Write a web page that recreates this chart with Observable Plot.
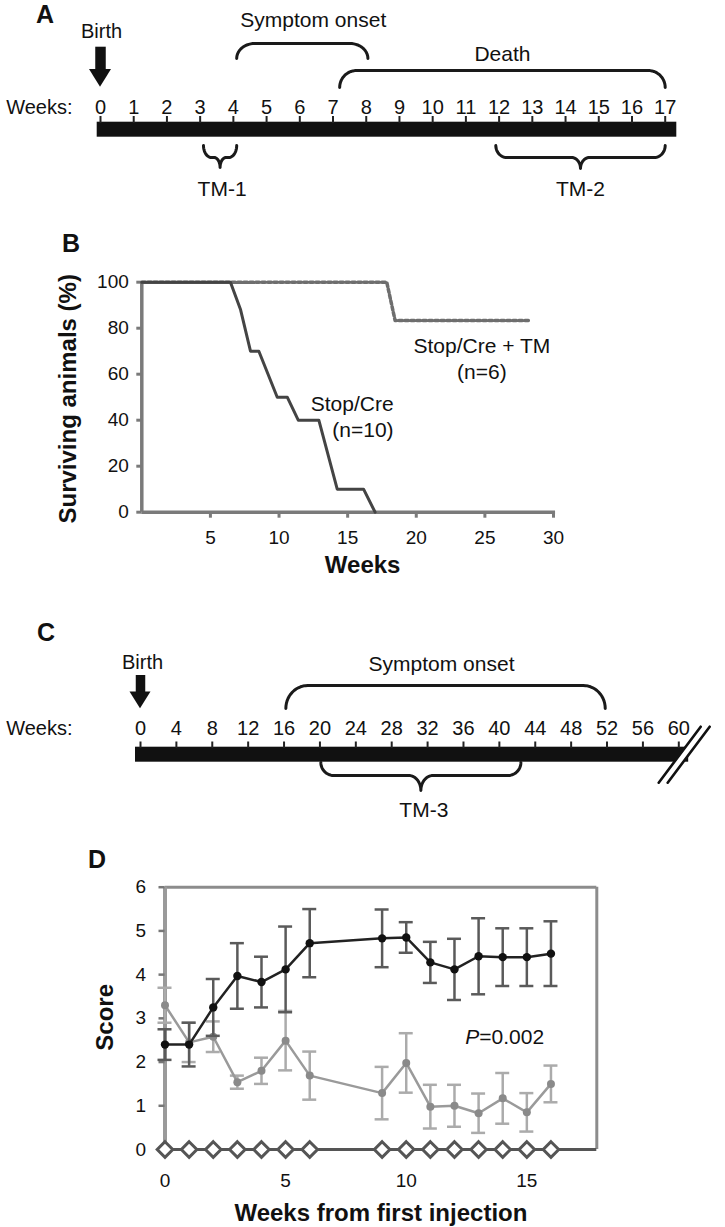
<!DOCTYPE html>
<html>
<head>
<meta charset="utf-8">
<script src="https://cdn.jsdelivr.net/npm/d3@7"></script>
<script src="https://cdn.jsdelivr.net/npm/@observablehq/plot@0.6"></script>
<style>
  html, body { margin: 0; padding: 0; background: #fff; }
  #fig { position: relative; width: 725px; height: 1227px; overflow: hidden; background: #fff; }
  #fig > svg, #fig > figure { position: absolute; left: 0; margin: 0; }
</style>
</head>
<body>
<div id="fig"></div>
<script>
// ================= DATA =================
// Panel A – timeline (weeks)
const weeksA = [0,1,2,3,4,5,6,7,8,9,10,11,12,13,14,15,16,17];
const bracketLabelsA = ["Symptom onset", "Death", "TM-1", "TM-2"];
const bracketStartA = [4.1, 7.2, 3.1, 11.9];
const bracketEndA   = [8.05, 17.0, 4.1, 17.0];

// Panel B – survival (%)
const weeksStopCre   = [0, 6.46, 7.2, 7.92, 8.53, 9.87, 10.6, 11.4, 12.9, 14.24, 16.16, 17.0];
const survStopCre    = [100, 100, 88, 70, 70, 50, 50, 40, 40, 10, 10, 0];
const weeksStopCreTM = [0, 17.85, 18.46, 28.2];
const survStopCreTM  = [100, 100, 83.3, 83.3];
const seriesLabelsB  = ["Stop/Cre\n(n=10)", "Stop/Cre + TM\n(n=6)"];
const yTicksB = [0, 20, 40, 60, 80, 100];
const xTicksB = [5, 10, 15, 20, 25, 30];

// Panel C – timeline (weeks)
const weeksC = [0,4,8,12,16,20,24,28,32,36,40,44,48,52,56,60];
const bracketLabelsC = ["Symptom onset", "TM-3"];
const bracketStartC = [16.2, 20.1];
const bracketEndC   = [51.8, 42.4];

// Panel D – score
const weeksD     = [0, 1, 2, 3, 4, 5, 6, 9, 10, 11, 12, 13, 14, 15, 16];
const scoreBlack = [2.40, 2.40, 3.25, 3.97, 3.83, 4.12, 4.72, 4.83, 4.85, 4.28, 4.12, 4.42, 4.40, 4.40, 4.48];
const errBlack   = [0.35, 0.50, 0.65, 0.75, 0.58, 0.98, 0.78, 0.66, 0.35, 0.47, 0.70, 0.87, 0.66, 0.66, 0.74];
const scoreGrey  = [3.30, 2.45, 2.58, 1.54, 1.80, 2.49, 1.69, 1.29, 1.98, 0.98, 1.00, 0.83, 1.17, 0.85, 1.50];
const errGrey    = [0.40, 0.45, 0.35, 0.15, 0.30, 0.68, 0.55, 0.60, 0.68, 0.50, 0.48, 0.45, 0.58, 0.44, 0.42];
const scoreOpen  = [0, 0, 0, 0, 0, 0, 0, 0, 0, 0, 0, 0, 0, 0, 0];
const yTicksD = [0, 1, 2, 3, 4, 5, 6];
const xTicksD = [0, 5, 10, 15];
const pValueText = ["P", "=0.002"];

// ================= LAYOUT / STYLE =================
const W = 725;
const FONT = '"Liberation Sans", Arial, Helvetica, sans-serif';
const STYLE = `font-family: ${FONT}; background: transparent; overflow: visible;`;
const INK = "#111";
const fig = document.getElementById("fig");
const intFmt = d => String(d);

function place(svg, top) {
  svg.style.position = "absolute";
  svg.style.left = "0px";
  svg.style.top = top + "px";
  fig.appendChild(svg);
}

// arc helper: cx in weeks, offsets in px converted via px-per-week
function arc(cx, cy, rx, ry, t0, t1, ppw, n = 14) {
  const out = [];
  for (let i = 0; i <= n; i++) {
    const t = t0 + (t1 - t0) * i / n;
    out.push({x: cx + rx * Math.cos(t) / ppw, y: cy + ry * Math.sin(t)});
  }
  return out;
}
function braceOver(id, x0, x1, yTop, yEnd, rx, ppw) {
  const ry = yEnd - yTop;
  return [
    ...arc(x0 + rx / ppw, yEnd, rx, ry, Math.PI, 1.5 * Math.PI, ppw),
    ...arc(x1 - rx / ppw, yEnd, rx, ry, 1.5 * Math.PI, 2 * Math.PI, ppw)
  ].map(p => ({...p, id}));
}
function braceUnder(id, x0, x1, yTop, yMid, yCusp, r, rc, ppw) {
  const xc = (x0 + x1) / 2, ry = yMid - yTop, ryc = yCusp - yMid;
  return [
    ...arc(x0 + r / ppw, yTop, r, ry, Math.PI, Math.PI / 2, ppw),
    ...arc(xc - rc / ppw, yCusp, rc, ryc, -Math.PI / 2, 0, ppw),
    ...arc(xc + rc / ppw, yCusp, rc, ryc, Math.PI, 1.5 * Math.PI, ppw),
    ...arc(x1 - r / ppw, yTop, r, ry, Math.PI / 2, 0, ppw)
  ].map(p => ({...p, id}));
}

// ================= PANEL A =================
{
  const H = 215, left = 100, right = 664.7;
  const [w0, w1] = d3.extent(weeksA);
  const ppw = (right - left) / (w1 - w0);
  const lv = {birth: 31, shaftTop: 46.7, headBase: 69, headTip: 86.7, weekLbl: 107,
              tickTop: 116, tickBot: 123, barTop: 121.7, barBot: 136.7};
  const spec = [
    {type: "over", yTop: 43, yEnd: 58, rx: 18, lblY: 20, lblDx: 11},
    {type: "over", yTop: 70, yEnd: 87, rx: 17, lblY: 53.3, lblDx: 0},
    {type: "under", yTop: 145, yMid: 157, yCusp: 167, r: 8, rc: 6, lblY: 188.3, lblDx: 2},
    {type: "under", yTop: 145, yMid: 157, yCusp: 168, r: 11, rc: 9, lblY: 188.3, lblDx: 0}
  ];
  const pts = bracketLabelsA.flatMap((lab, i) => {
    const s = spec[i];
    return s.type === "over"
      ? braceOver(lab, bracketStartA[i], bracketEndA[i], s.yTop, s.yEnd, s.rx, ppw)
      : braceUnder(lab, bracketStartA[i], bracketEndA[i], s.yTop, s.yMid, s.yCusp, s.r, s.rc, ppw);
  });
  const svg = Plot.plot({
    width: W, height: H, marginLeft: left, marginRight: W - right, marginTop: 0, marginBottom: 0,
    x: {domain: [w0, w1], axis: null},
    y: {domain: [0, H], range: [0, H], axis: null},
    style: STYLE,
    marks: [
      Plot.rect([0], {x1: w0 - 3.3 / ppw, x2: w1 + 11.6 / ppw, y1: lv.barTop, y2: lv.barBot, fill: INK}),
      Plot.ruleX(weeksA, {x: d => d, y1: lv.tickTop, y2: lv.tickBot, stroke: "#222", strokeWidth: 2}),
      Plot.text(weeksA, {x: d => d, y: lv.weekLbl, text: d => String(d), fontSize: 20, fill: INK}),
      Plot.text(["Weeks:"], {x: w0, y: lv.weekLbl, text: d => d, textAnchor: "end", dx: -28, fontSize: 20, fill: INK}),
      Plot.text(["Birth"], {x: w0, y: lv.birth, text: d => d, fontSize: 20, fill: INK, dx: 1}),
      Plot.ruleX([w0], {y1: lv.shaftTop, y2: lv.headBase + 2, stroke: INK, strokeWidth: 10.5}),
      Plot.areaY([-1, 0, 1], {x: d => w0 + d * 11 / ppw, y1: lv.headBase, y2: d => d === 0 ? lv.headTip : lv.headBase, fill: INK}),
      Plot.line(pts, {x: "x", y: "y", z: "id", stroke: "#1a1a1a", strokeWidth: 3, strokeLinejoin: "round", strokeLinecap: "round"}),
      Plot.text(bracketLabelsA, {
        x: (d, i) => (bracketStartA[i] + bracketEndA[i]) / 2 + spec[i].lblDx / ppw,
        y: (d, i) => spec[i].lblY, text: d => d, fontSize: 21, fill: INK
      })
    ]
  });
  place(svg, 0);
}

// ================= PANEL B =================
{
  const top = 215, H = 380;
  const GRID = "#7a7a7a";
  const rowsSC = weeksStopCre.map((w, i) => ({w, s: survStopCre[i]}));
  const rowsTM = weeksStopCreTM.map((w, i) => ({w, s: survStopCreTM[i]}));
  const xMax = d3.max(xTicksB), yMax = d3.max(yTicksB);
  const svg = Plot.plot({
    width: W, height: H,
    marginLeft: 141.3, marginRight: W - 553, marginTop: 66.7, marginBottom: H - 296.7,
    x: {domain: [0, xMax]},
    y: {domain: [0, yMax]},
    style: STYLE,
    marks: [
      Plot.axisY({ticks: yTicksB, tickFormat: intFmt, tickSize: 5, tickPadding: 8, fontSize: 19, stroke: GRID, strokeWidth: 3, label: null, fill: INK}),
      Plot.axisX({ticks: xTicksB, tickFormat: intFmt, tickSize: 6, tickPadding: 12, fontSize: 19, stroke: GRID, strokeWidth: 3, label: null, fill: INK}),
      Plot.ruleX([0], {y1: 0, y2: yMax, stroke: GRID, strokeWidth: 3.5}),
      Plot.ruleY([0], {x1: 0, x2: xMax + 0.15, stroke: GRID, strokeWidth: 3.5}),
      Plot.line(rowsTM, {x: "w", y: "s", stroke: "#6e6e6e", strokeWidth: 3.5, strokeDasharray: "3.5,2.5"}),
      Plot.line(rowsSC, {x: "w", y: "s", stroke: "#444", strokeWidth: 3, strokeLinejoin: "round"}),
      Plot.text([seriesLabelsB[0]], {x: 18.35, y: 42, text: d => d, textAnchor: "end", fontSize: 21, lineHeight: 1.27, fill: INK}),
      Plot.text([seriesLabelsB[1]], {x: 24.78, y: 67.3, text: d => d, textAnchor: "middle", fontSize: 21, lineHeight: 1.24, fill: INK}),
      Plot.text(["Surviving animals (%)"], {frameAnchor: "left", dx: -73.3, dy: 1.6, rotate: -90, text: d => d,
        textAnchor: "middle", fontSize: 24, fontWeight: "bold", lineAnchor: "middle", fill: INK}),
      Plot.text(["Weeks"], {frameAnchor: "bottom", dx: 15, dy: 53.3, text: d => d,
        textAnchor: "middle", fontSize: 24, fontWeight: "bold", lineAnchor: "middle", fill: INK})
    ]
  });
  place(svg, top);
}

// ================= PANEL C =================
{
  const top = 595, H = 232, left = 140, right = 678.3;
  const [w0, w1] = d3.extent(weeksC);
  const ppw = (right - left) / (w1 - w0);
  const lv = {birth: 66.7, shaftTop: 80, headBase: 96.5, headTip: 113.3, weekLbl: 133.3,
              tickTop: 146.5, tickBot: 153, barTop: 151.7, barBot: 166.7};
  const spec = [
    {type: "over", yTop: 90, yEnd: 113, rx: 22, lblY: 68.3, lblDx: -4},
    {type: "under", yTop: 167, yMid: 180, yCusp: 195, r: 13, rc: 12, lblY: 215, lblDx: 3}
  ];
  const pts = bracketLabelsC.flatMap((lab, i) => {
    const s = spec[i];
    return s.type === "over"
      ? braceOver(lab, bracketStartC[i], bracketEndC[i], s.yTop, s.yEnd, s.rx, ppw)
      : braceUnder(lab, bracketStartC[i], bracketEndC[i], s.yTop, s.yMid, s.yCusp, s.r, s.rc, ppw);
  });
  const barMid = (lv.barTop + lv.barBot) / 2;
  // break symbol "//" after the last week
  const slashCenters = [w1 + 0.1, w1 + 1.1];
  const slash = (id, cx) => [
    {id, x: cx - 21 / ppw, y: barMid + 28},
    {id, x: cx + 21 / ppw, y: barMid - 28}
  ];
  const gap = slash("gap", (slashCenters[0] + slashCenters[1]) / 2);
  const slashes = slashCenters.flatMap((c, k) => slash("s" + k, c));
  const svg = Plot.plot({
    width: W, height: H, marginLeft: left, marginRight: W - right, marginTop: 0, marginBottom: 0,
    x: {domain: [w0, w1], axis: null},
    y: {domain: [0, H], range: [0, H], axis: null},
    style: STYLE,
    marks: [
      Plot.rect([0], {x1: w0 - 5 / ppw, x2: slashCenters[1], y1: lv.barTop, y2: lv.barBot, fill: INK}),
      Plot.line(gap, {x: "x", y: "y", stroke: "white", strokeWidth: 6}),
      Plot.line(slashes, {x: "x", y: "y", z: "id", stroke: INK, strokeWidth: 2.6}),
      Plot.ruleX(weeksC, {x: d => d, y1: lv.tickTop, y2: lv.tickBot, stroke: "#222", strokeWidth: 2}),
      Plot.text(weeksC, {x: d => d, y: lv.weekLbl, text: d => String(d), fontSize: 20, fill: INK}),
      Plot.text(["Weeks:"], {x: w0, y: lv.weekLbl, text: d => d, textAnchor: "end", dx: -68, fontSize: 20, fill: INK}),
      Plot.text(["Birth"], {x: w0, y: lv.birth, text: d => d, fontSize: 20, fill: INK, dx: 2}),
      Plot.ruleX([w0], {y1: lv.shaftTop, y2: lv.headBase + 2, stroke: INK, strokeWidth: 9.5}),
      Plot.areaY([-1, 0, 1], {x: d => w0 + d * 10.5 / ppw, y1: lv.headBase, y2: d => d === 0 ? lv.headTip : lv.headBase, fill: INK}),
      Plot.line(pts, {x: "x", y: "y", z: "id", stroke: "#1a1a1a", strokeWidth: 3, strokeLinejoin: "round", strokeLinecap: "round"}),
      Plot.text(bracketLabelsC, {
        x: (d, i) => (bracketStartC[i] + bracketEndC[i]) / 2 + spec[i].lblDx / ppw,
        y: (d, i) => spec[i].lblY, text: d => d, fontSize: 21, fill: INK
      })
    ]
  });
  place(svg, top);
}

// ================= PANEL D =================
{
  const top = 825, H = 402;
  const rows = weeksD.map((w, i) => ({w, b: scoreBlack[i], be: errBlack[i], g: scoreGrey[i], ge: errGrey[i], o: scoreOpen[i]}));
  const xMax = 17.9, yMax = d3.max(yTicksD);
  const cap = 0.29;
  const FRAME = "#8c8c8c";
  const errMarks = (key, ekey, color, width) => [
    Plot.ruleX(rows, {x: "w", y1: d => d[key] - d[ekey], y2: d => d[key] + d[ekey], stroke: color, strokeWidth: width}),
    Plot.ruleY(rows, {y: d => d[key] + d[ekey], x1: d => d.w - cap, x2: d => d.w + cap, stroke: color, strokeWidth: width}),
    Plot.ruleY(rows, {y: d => d[key] - d[ekey], x1: d => d.w - cap, x2: d => d.w + cap, stroke: color, strokeWidth: width})
  ];
  const svg = Plot.plot({
    width: W, height: H,
    marginLeft: 164.5, marginRight: W - 596.3, marginTop: 61.7, marginBottom: H - 324,
    x: {domain: [0, xMax]},
    y: {domain: [0, yMax]},
    style: STYLE,
    marks: [
      Plot.ruleY([yMax], {x1: 0, x2: xMax, stroke: FRAME, strokeWidth: 3}),
      Plot.ruleX([xMax], {y1: 0, y2: yMax, stroke: FRAME, strokeWidth: 3}),
      Plot.ruleX([0], {y1: 0, y2: yMax, stroke: "#9a9a9a", strokeWidth: 4}),
      Plot.axisY({ticks: yTicksD, tickFormat: intFmt, tickSize: 6, tickPadding: 13, fontSize: 19, stroke: "#777", strokeWidth: 2.5, label: null, fill: INK}),
      Plot.axisX({ticks: xTicksD, tickFormat: intFmt, tickSize: 0, tickPadding: 24, fontSize: 19, label: null, fill: INK}),
      // grey series
      ...errMarks("g", "ge", "#ababab", 2.5),
      Plot.line(rows, {x: "w", y: "g", stroke: "#9a9a9a", strokeWidth: 2.5}),
      Plot.dot(rows, {x: "w", y: "g", r: 4, fill: "#8a8a8a"}),
      // black series
      ...errMarks("b", "be", "#5a5a5a", 2.5),
      Plot.line(rows, {x: "w", y: "b", stroke: "#222", strokeWidth: 2.5}),
      Plot.dot(rows, {x: "w", y: "b", r: 4.2, fill: "#111"}),
      // open diamonds at zero
      Plot.ruleY([0], {x1: 0, x2: xMax, stroke: "#555", strokeWidth: 3}),
      Plot.line(rows, {x: "w", y: "o", stroke: "#555", strokeWidth: 3}),
      Plot.dot(rows, {x: "w", y: "o", symbol: "diamond2", r: 7, fill: "white", stroke: "#555", strokeWidth: 3}),
      // p-value
      Plot.text([pValueText[0]], {x: 13.03, y: 2.57, text: d => d, textAnchor: "end", fontStyle: "italic", fontSize: 21, fill: INK}),
      Plot.text([pValueText[1]], {x: 13.03, y: 2.57, text: d => d, textAnchor: "start", fontSize: 21, fill: INK}),
      Plot.text(["Score"], {frameAnchor: "left", dx: -59.5, dy: -1, rotate: -90, text: d => d,
        textAnchor: "middle", fontSize: 24, fontWeight: "bold", lineAnchor: "middle", fill: INK}),
      Plot.text(["Weeks from first injection"], {frameAnchor: "bottom", dy: 64, text: d => d,
        textAnchor: "middle", fontSize: 24, fontWeight: "bold", lineAnchor: "middle", fill: INK})
    ]
  });
  place(svg, top);
}

// ================= PANEL LETTERS =================
{
  const ns = "http://www.w3.org/2000/svg";
  const svg = document.createElementNS(ns, "svg");
  svg.setAttribute("width", W);
  svg.setAttribute("height", 1227);
  svg.style.position = "absolute";
  svg.style.left = "0px";
  svg.style.top = "0px";
  svg.style.pointerEvents = "none";
  const letters = [["A", 36, 23], ["B", 62, 252], ["C", 37, 641], ["D", 88, 868]];
  for (const [t, x, y] of letters) {
    const el = document.createElementNS(ns, "text");
    el.setAttribute("x", x);
    el.setAttribute("y", y);
    el.setAttribute("font-family", FONT);
    el.setAttribute("font-size", 25);
    el.setAttribute("font-weight", "bold");
    el.setAttribute("fill", INK);
    el.textContent = t;
    svg.appendChild(el);
  }
  fig.appendChild(svg);
}
</script>
</body>
</html>
